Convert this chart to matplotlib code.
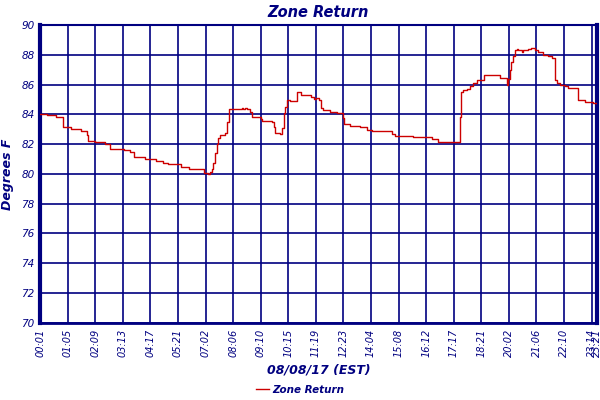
import matplotlib
matplotlib.use("Agg")
import matplotlib.pyplot as plt

NAVY = "#000080"
RED = "#cc0000"

# sample index (one tick interval = 64 samples) and temperature (deg F)
sample_idx = [0, 17, 38, 53, 73, 94, 110, 111, 127, 150, 162, 195, 208, 218,
              244, 270, 285, 297, 328, 345, 381, 390, 394, 398, 402, 406, 410,
              414, 418, 429, 435, 438, 468, 472, 476, 480, 487, 491, 513, 516,
              538, 544, 545, 557, 561, 565, 568, 572, 580, 596, 606, 629, 636,
              640, 647, 652, 657, 673, 688, 704, 705, 719, 742, 758, 770, 816,
              824, 843, 866, 909, 924, 973, 975, 976, 982, 990, 998, 1005, 1013,
              1025, 1030, 1052, 1067, 1081, 1084, 1086, 1090, 1094, 1098, 1102,
              1106, 1110, 1118, 1121, 1133, 1140, 1148, 1156, 1167, 1179, 1187,
              1195, 1199, 1206, 1218, 1226, 1241, 1248, 1249, 1264, 1284, 1292]
temp_f = [84.0, 83.93, 83.8, 83.13, 83.02, 82.9, 82.62, 82.24, 82.13, 82.02,
          81.69, 81.62, 81.5, 81.13, 81.02, 80.84, 80.73, 80.67, 80.47, 80.35,
          80.07, 80.0, 80.1, 80.33, 80.73, 81.4, 82.0, 82.4, 82.62, 82.73,
          83.51, 84.33, 84.44, 84.33, 84.44, 84.33, 84.18, 83.8, 83.67, 83.55,
          83.46, 83.17, 82.77, 82.69, 83.07, 84.07, 84.51, 84.95, 84.89, 85.47,
          85.29, 85.18, 85.02, 85.11, 84.95, 84.4, 84.29, 84.18, 84.07, 83.73,
          83.33, 83.22, 83.13, 82.95, 82.87, 82.69, 82.57, 82.55, 82.49, 82.35,
          82.15, 82.15, 83.8, 85.47, 85.62, 85.73, 85.89, 86.11, 86.29, 86.33,
          86.67, 86.62, 86.47, 86.44, 86.0, 86.4, 86.95, 87.51, 87.95, 88.29,
          88.4, 88.29, 88.22, 88.29, 88.4, 88.44, 88.35, 88.22, 88.0, 87.95,
          87.77, 86.29, 86.13, 86.0, 85.91, 85.8, 85.77, 85.29, 84.95, 84.84,
          84.73, 84.67]

tick_pos = [0, 64, 128, 192, 256, 320, 384, 448, 512, 576, 640, 704, 768, 832,
            896, 960, 1024, 1088, 1152, 1216, 1280, 1292]
tick_labels = ["00:01", "01:05", "02:09", "03:13", "04:17", "05:21", "07:02",
               "08:06", "09:10", "10:15", "11:19", "12:23", "14:04", "15:08",
               "16:12", "17:17", "18:21", "20:02", "21:06", "22:10", "23:14",
               "23:21"]
y_ticks = list(range(70, 91, 2))

fig = plt.figure(figsize=(6, 4), dpi=100)
ax = fig.add_axes([0.0667, 0.193, 0.928, 0.7445])

ax.plot(sample_idx, temp_f, color=RED, lw=1.0, drawstyle="steps-post",
        label="Zone Return", zorder=3)

ax.set_xlim(0, 1292)
ax.set_ylim(70, 90)
ax.set_xticks(tick_pos)
ax.set_xticklabels(tick_labels, rotation=90, fontsize=7, style="italic",
                   color=NAVY)
ax.set_yticks(y_ticks)
ax.set_yticklabels([str(v) for v in y_ticks], fontsize=7.5, style="italic",
                   color=NAVY)
ax.tick_params(axis="both", length=0, pad=4)
ax.grid(True, color=NAVY, lw=1.2)

for side, w in (("left", 3), ("bottom", 2), ("right", 3), ("top", 1.5)):
    ax.spines[side].set_color(NAVY)
    ax.spines[side].set_linewidth(w)

ax.set_title("Zone Return", fontsize=10.5, fontweight="bold", style="italic",
             color=NAVY, pad=6)
ax.set_ylabel("Degrees F", fontsize=9, fontweight="bold", style="italic",
              color=NAVY, labelpad=5)
ax.set_xlabel("08/08/17 (EST)", fontsize=9, fontweight="bold",
              style="italic", color=NAVY, labelpad=5)

leg = fig.legend(loc="lower center", bbox_to_anchor=(0.5, -0.01), frameon=False,
                 fontsize=7.5, handlelength=1.2, handletextpad=0.3)
for t in leg.get_texts():
    t.set_color(NAVY)
    t.set_fontweight("bold")
    t.set_fontstyle("italic")

fig.savefig("out.png", dpi=100)
